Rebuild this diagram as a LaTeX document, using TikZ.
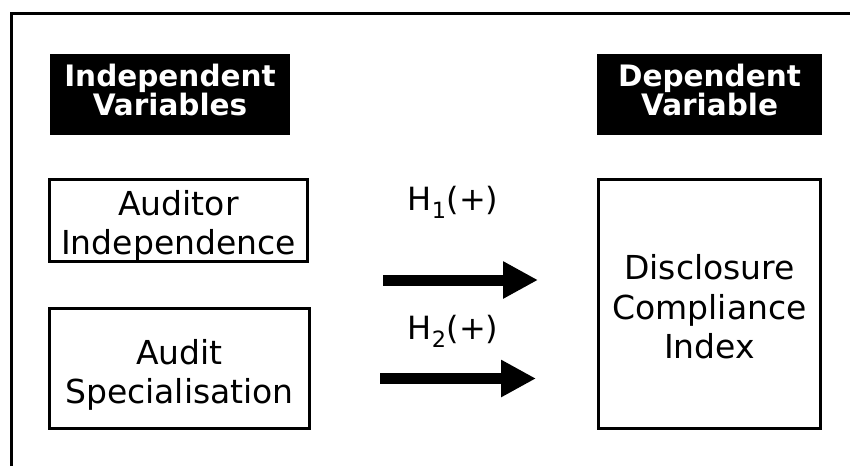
\documentclass[tikz,border=0pt]{standalone}
\usepackage{fontspec}
\setmainfont{DejaVu Sans}
\usetikzlibrary{arrows.meta}
\begin{document}
\begin{tikzpicture}[x=1pt,y=-1pt,
  hdrbox/.style={fill=black,inner sep=0pt},
  hdrtext/.style={text=white,font=\fontsize{29.5}{29}\selectfont\bfseries,align=center,inner sep=0pt},
  varbox/.style={draw=black,line width=3pt,inner sep=0pt},
  vartext/.style={font=\fontsize{33}{39.5}\selectfont,align=center,inner sep=0pt},
  bigarrow/.style={line width=11pt,-{Triangle[length=35pt,width=35pt]}},
  hyp/.style={font=\fontsize{32}{36}\selectfont,inner sep=0pt}]
\useasboundingbox (0,0) rectangle (850,466);
\fill[white] (0,0) rectangle (850,466);
\draw[line width=3pt] (11,466) -- (11,13) -- (850,13);
\node[hdrbox,minimum width=240pt,minimum height=81pt] (iv) at (170,94.5) {};
\node[hdrtext] (ivt) at (170,90) {Independent\\Variables};
\node[hdrbox,minimum width=225pt,minimum height=81pt] (dv) at (709.5,94.5) {};
\node[hdrtext] (dvt) at (709.5,90) {Dependent\\Variable};
\node[varbox,minimum width=258pt,minimum height=82pt] (ai) at (178.5,220.5) {};
\node[vartext] (ait) at (178.5,226) {Auditor\\Independence};
\node[varbox,minimum width=260pt,minimum height=120pt] (as) at (179.5,368.5) {};
\node[vartext] (ast) at (179.5,375) {Audit\\Specialisation};
\node[varbox,minimum width=222pt,minimum height=249pt] (dci) at (709.5,304) {};
\node[vartext] (dcit) at (709.5,307) {Disclosure\\Compliance\\Index};
\coordinate (a1s) at (383,280);
\coordinate (a1e) at (538,280);
\coordinate (a2s) at (380,378.5);
\coordinate (a2e) at (536,378.5);
\draw[bigarrow] (a1s) -- (a1e);
\draw[bigarrow] (a2s) -- (a2e);
\node[hyp] (h1) at (453,202) {H\textsubscript{1}(+)};
\node[hyp] (h2) at (453,331) {H\textsubscript{2}(+)};
\end{tikzpicture}
\end{document}
